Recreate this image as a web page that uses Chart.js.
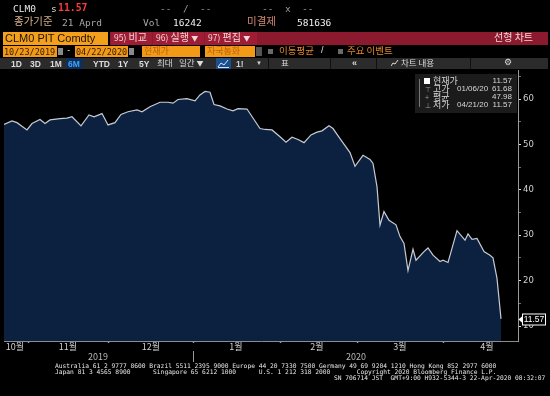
<!DOCTYPE html>
<html><head><meta charset="utf-8">
<script src="https://cdn.jsdelivr.net/npm/chart.js@4.4.1/dist/chart.umd.min.js"></script>
<style>
html,body{margin:0;padding:0;background:#000;width:550px;height:396px;overflow:hidden}
#wrap{position:relative;width:550px;height:396px}
canvas{position:absolute;left:0;top:0}
.t{position:absolute;white-space:pre;line-height:1}
.mono{font-family:"DejaVu Sans Mono",monospace}
.kr{font-family:"Noto Sans CJK KR","Noto Sans",sans-serif}
.sans{font-family:"Liberation Sans",Arial,sans-serif}
.box{position:absolute}
</style></head>
<body><div id="wrap">
<canvas id="c" width="550" height="396"></canvas>

<!-- row 1 -->
<span class="t mono" style="left:13px;top:4px;font-size:9.5px;color:#e8e8e8">CLM0</span>
<span class="t mono" style="left:51px;top:4px;font-size:9.5px;color:#d8d8d8">s</span>
<span class="t mono" style="left:58px;top:3px;font-size:9.8px;font-weight:bold;color:#ff3c3c">11.57</span>
<span class="t mono" style="left:160px;top:4px;font-size:9.5px;color:#9a9a9a">--  /  --</span>
<span class="t mono" style="left:262px;top:4px;font-size:9.5px;color:#9a9a9a">--  x  --</span>
<!-- row 2 -->
<span class="t kr" style="left:14px;top:15.5px;font-size:10.5px;color:#d4b089">종가기준</span>
<span class="t mono" style="left:62px;top:18px;font-size:9.5px;color:#a8a8a8">21 Aprd</span>
<span class="t mono" style="left:143px;top:18px;font-size:9.5px;color:#a8a8a8">Vol</span>
<span class="t mono" style="left:173px;top:18px;font-size:9.5px;color:#f0f0f0">16242</span>
<span class="t kr" style="left:247px;top:15.5px;font-size:10.5px;color:#cf8a72">미결제</span>
<span class="t mono" style="left:297px;top:18px;font-size:9.5px;color:#f0f0f0">581636</span>
<!-- row 3 -->
<div class="box" style="left:3px;top:32px;width:105px;height:13px;background:#f5a01c"></div>
<span class="t sans" style="left:5px;top:33px;font-size:11px;color:#1c1208">CLM0 PIT Comdty</span>
<div class="box" style="left:110px;top:32px;width:438px;height:13px;background:#8c1a2e"></div>
<div class="box" style="left:111px;top:32px;width:41px;height:13px;background:#9e1d34"></div>
<div class="box" style="left:153px;top:32px;width:51px;height:13px;background:#9e1d34"></div>
<div class="box" style="left:205px;top:32px;width:52px;height:13px;background:#9e1d34"></div>
<span class="t kr" style="left:114px;top:32px;font-size:10px;color:#f3d6d6"><span style="font-size:8.5px">95)</span> 비교</span>
<span class="t kr" style="left:156px;top:32px;font-size:10px;color:#f3d6d6"><span style="font-size:8.5px">96)</span> 실행 <span style="font-size:7px">▼</span></span>
<span class="t kr" style="left:208px;top:32px;font-size:10px;color:#f3d6d6"><span style="font-size:8.5px">97)</span> 편집 <span style="font-size:7px">▼</span></span>
<span class="t kr" style="left:494px;top:32px;font-size:10px;color:#f3d6d6">선형 차트</span>
<!-- row 4 -->
<div class="box" style="left:3px;top:46px;width:54px;height:11px;background:#f29a18"></div>
<span class="t mono" style="left:4px;top:47.5px;font-size:8.5px;color:#3a2000">10/23/2019</span>
<div class="box" style="left:58px;top:48px;width:5px;height:7px;background:#8a8a8a"></div>
<span class="t mono" style="left:66px;top:46px;font-size:9px;color:#dddddd">-</span>
<div class="box" style="left:75px;top:46px;width:53px;height:11px;background:#f29a18"></div>
<span class="t mono" style="left:76px;top:47.5px;font-size:8.5px;color:#3a2000">04/22/2020</span>
<div class="box" style="left:129px;top:48px;width:5px;height:7px;background:#8a8a8a"></div>
<div class="box" style="left:142px;top:46px;width:58px;height:11px;background:#f29a18"></div>
<span class="t kr" style="left:144px;top:45.5px;font-size:9px;color:#b8620e">현재가</span>
<div class="box" style="left:205px;top:46px;width:50px;height:11px;background:#f29a18"></div>
<span class="t kr" style="left:207px;top:45.5px;font-size:9px;color:#b8620e">자국통화</span>
<div class="box" style="left:256px;top:47px;width:6px;height:9px;background:#555"></div>
<div class="box" style="left:268px;top:49px;width:5px;height:5px;background:#6a6a6a"></div>
<span class="t kr" style="left:279px;top:45.5px;font-size:9.5px;color:#e5862a">이동평균</span>
<span class="t sans" style="left:321px;top:46px;font-size:9px;color:#e0e0e0">/</span>
<div class="box" style="left:338px;top:49px;width:5px;height:5px;background:#6a6a6a"></div>
<span class="t kr" style="left:347px;top:45.5px;font-size:9.5px;color:#e5862a">주요 이벤트</span>
<!-- row 5 -->
<div class="box" style="left:0px;top:58px;width:548px;height:11px;background:#2b2b2b"></div>
<div class="box" style="left:268px;top:58px;width:1px;height:11px;background:#111"></div>
<div class="box" style="left:330px;top:58px;width:1px;height:11px;background:#111"></div>
<div class="box" style="left:376px;top:58px;width:1px;height:11px;background:#111"></div>
<div class="box" style="left:470px;top:58px;width:1px;height:11px;background:#111"></div>
<div class="box" style="left:66px;top:58px;width:17px;height:11px;background:#0f2f57"></div>
<span class="t sans" style="left:11px;top:59.5px;font-size:8.5px;font-weight:bold;color:#dcdcdc">1D</span>
<span class="t sans" style="left:30px;top:59.5px;font-size:8.5px;font-weight:bold;color:#dcdcdc">3D</span>
<span class="t sans" style="left:50px;top:59.5px;font-size:8.5px;font-weight:bold;color:#dcdcdc">1M</span>
<span class="t sans" style="left:68px;top:59.5px;font-size:8.5px;font-weight:bold;color:#3ea2ff">6M</span>
<span class="t sans" style="left:93px;top:59.5px;font-size:8.5px;font-weight:bold;color:#dcdcdc">YTD</span>
<span class="t sans" style="left:118px;top:59.5px;font-size:8.5px;font-weight:bold;color:#dcdcdc">1Y</span>
<span class="t sans" style="left:139px;top:59.5px;font-size:8.5px;font-weight:bold;color:#dcdcdc">5Y</span>
<span class="t kr" style="left:157px;top:58px;font-size:8.5px;color:#dcdcdc">최대</span>
<span class="t kr" style="left:179px;top:58px;font-size:8.5px;color:#dcdcdc">일간 <span style="font-size:7px">▼</span></span>
<div class="box" style="left:216px;top:58px;width:15px;height:11px;background:#1d4f8c"></div>
<svg class="box" style="left:217px;top:59px" width="13" height="9"><polyline points="1,8 4,4 7,6 11,1" fill="none" stroke="#cfe4ff" stroke-width="1"/><line x1="1" y1="8.5" x2="12" y2="8.5" stroke="#cfe4ff" stroke-width="1"/></svg>
<span class="t sans" style="left:236px;top:59.5px;font-size:8.5px;font-weight:bold;color:#cfcfcf">1!</span>
<span class="t sans" style="left:256px;top:60px;font-size:6px;color:#cfcfcf">▼</span>
<span class="t kr" style="left:281px;top:58px;font-size:8.5px;color:#dcdcdc">표</span>
<span class="t sans" style="left:352px;top:58.5px;font-size:9px;font-weight:bold;color:#dcdcdc">«</span>
<svg class="box" style="left:391px;top:60px" width="8" height="7"><polyline points="0,6 2,3 4,4 7,0" fill="none" stroke="#dcdcdc" stroke-width="1"/></svg>
<span class="t kr" style="left:401px;top:58px;font-size:8.5px;color:#dcdcdc">차트 내용</span>
<span class="t sans" style="left:504px;top:58px;font-size:9px;color:#dcdcdc">⚙</span>

<!-- stats box -->
<div class="box" style="left:415px;top:74px;width:102px;height:39px;background:#1b1b1b"></div>
<div class="box" style="left:419px;top:79px;width:1px;height:28px;background:#777"></div>
<div class="box" style="left:424px;top:78px;width:6px;height:6px;background:#ffffff"></div>
<div id="stats"></div>

<!-- footer -->
<span class="t mono" style="left:55px;top:362.5px;font-size:6.27px;color:#e8e8e8">Australia 61 2 9777 8600 Brazil 5511 2395 9000 Europe 44 20 7330 7500 Germany 49 69 9204 1210 Hong Kong 852 2977 6000</span>
<span class="t mono" style="left:55px;top:369px;font-size:6.27px;color:#e8e8e8">Japan 81 3 4565 8900      Singapore 65 6212 1000      U.S. 1 212 318 2000       Copyright 2020 Bloomberg Finance L.P.</span>
<span class="t mono" style="left:334px;top:375px;font-size:6.27px;color:#e8e8e8">SN 706714 JST  GMT+9:00 H932-5344-3 22-Apr-2020 08:32:07</span>
</div>
<script>
// ---- data ----
// x = trading-day index from 23 Oct 2019
const dayIndex = [0,2,3.25,5.75,7,9,10.25,11.5,14,15.75,17,19.25,21.25,22.5,24.5,26,27.75,29.25,31,33.25,34.5,36.5,39,41,42.25,43.5,45.75,47.75,49,50.25,51.5,52.5,54,55.75,57.25,58.5,60.75,64,65.25,67,69,70.5,72,73.5,75,76.75,78.25,79.5,81.25,82.25,84,86.5,87.75,89.75,91.5,92.25,93.25,94,95,96.25,98,99,100,101,102.25,103,105,106,107.25,109,109.75,111,113.25,115.25,116,117,118.25,120,121.5,122.25,123.25,124.25];
const price = [54.4,55.2,54.8,53.2,54.6,55.5,54.6,55.4,55.7,55.8,56.1,54.1,56.5,56.1,56.8,54.3,54.8,56.6,57.2,57.6,57.2,58.3,59.3,59.3,59.1,59.9,60.1,59.6,60.9,61.68,61.5,58.8,58.5,57.8,57.4,57.9,57.8,53.5,53.3,53.2,51.7,50.5,51.6,51.1,50.4,52.1,52.7,53.0,54.1,53.5,51.3,48.2,45.2,47.6,46.7,45.8,40.7,32.2,35.2,33.3,32.3,29.7,28.2,22.2,26.9,24.5,26.4,27.2,25.6,24.2,24.5,24.0,31.0,28.9,30.3,29.1,29.3,26.4,25.6,25.0,20.5,11.57];
const monthLabels = ['10월','11월','12월','1월','2월','3월','4월'];
const monthCenters = [2.75,16,36.75,58,78.25,99,120.75];
const monthStarts = [6,26,47.25,69,88.25,109.75];
const yearLabels = ['2019','2020'];
const yearCenters = [23.5,88];
const yearDivider = 47.25;
const statNames = ['현재가','고가','평균','저가'];
const statDates = ['','01/06/20','','04/21/20'];
const statValues = [11.57,61.68,47.98,11.57];
const statMarks = ['','⊤','+','⊥'];

// stats box text
(function(){
  const host=document.getElementById('stats');
  let html='';
  statNames.forEach((n,i)=>{
    const top=77+i*8;
    if(statMarks[i]) html+=`<span class="t sans" style="left:425px;top:${top+0.5}px;font-size:7px;color:#9a9a9a">${statMarks[i]}</span>`;
    html+=`<span class="t kr" style="left:433px;top:${top-1.5}px;font-size:9px;color:#d6d6d6">${n}</span>`;
    if(statDates[i]) html+=`<span class="t sans" style="left:457px;top:${top}px;font-size:8px;color:#d6d6d6">${statDates[i]}</span>`;
    html+=`<span class="t sans" style="left:482px;width:30px;text-align:right;top:${top}px;font-size:8px;color:#d6d6d6">${statValues[i].toFixed(2)}</span>`;
  });
  host.innerHTML=html;
})();

const lastValuePlugin = {
  id:'lastValue',
  afterDraw(chart){
    const ys=chart.scales.y, c=chart.ctx;
    const v=price[price.length-1];
    const py=Math.round(ys.getPixelForValue(v))+0.5;
    const x0=ys.left+4.5;
    c.save();
    c.fillStyle='#ffffff';
    c.beginPath(); c.moveTo(ys.left+0.5,py); c.lineTo(x0,py-3.5); c.lineTo(x0,py+3.5); c.closePath(); c.fill();
    c.fillStyle='#000'; c.fillRect(x0,py-5.5,23,11);
    c.strokeStyle='#ffffff'; c.lineWidth=1; c.strokeRect(x0,py-5.5,23,11);
    c.fillStyle='#ffffff'; c.font='8.5px "Liberation Sans", Arial, sans-serif';
    c.textAlign='center'; c.textBaseline='middle';
    c.fillText(v.toFixed(2), x0+11.5, py+0.5);
    c.restore();
  }
};

const isIn=(arr,v)=>arr.some(a=>Math.abs(a-v)<1e-6);

new Chart(document.getElementById('c'),{
  type:'line',
  data:{datasets:[{
    data: dayIndex.map((d,i)=>({x:d,y:price[i]})),
    borderColor:'#c6cbd3', borderWidth:1.2, backgroundColor:'#0c2040',
    fill:'start', pointRadius:0, tension:0
  }]},
  options:{
    responsive:false, animation:false, devicePixelRatio:1,
    layout:{padding:{left:4,right:0,top:70,bottom:32}},
    plugins:{legend:{display:false},tooltip:{enabled:false}},
    scales:{
      x:{
        type:'linear', position:'bottom', min:0, max:128.5, weight:0,
        afterBuildTicks:s=>{ s.ticks=[...monthCenters,...monthStarts].sort((a,b)=>a-b).map(v=>({value:v})); },
        afterFit:s=>{ s.height=10; },
        grid:{display:true,drawOnChartArea:false,drawTicks:true,tickLength:2,tickWidth:1.5,
          tickColor:ctx=> (ctx.tick && isIn(monthStarts,ctx.tick.value)) ? '#9a9a9a' : 'rgba(0,0,0,0)'},
        border:{display:true,color:'#8c8c8c',width:1},
        ticks:{autoSkip:false,maxRotation:0,padding:-2,color:'#d0d0d0',
          font:{family:'"Noto Sans CJK KR"',size:9},
          callback:v=>{ const i=monthCenters.findIndex(m=>Math.abs(m-v)<1e-6); return i>=0?monthLabels[i]:''; }}
      },
      x2:{
        type:'linear', position:'bottom', min:0, max:128.5, weight:1,
        afterBuildTicks:s=>{ s.ticks=[yearCenters[0],yearDivider,yearCenters[1]].map(v=>({value:v})); },
        afterFit:s=>{ s.height=13; },
        grid:{display:true,drawOnChartArea:false,drawTicks:true,tickLength:11,tickWidth:1,
          tickColor:ctx=> (ctx.tick && Math.abs(ctx.tick.value-yearDivider)<1e-6) ? '#9a9a9a' : 'rgba(0,0,0,0)'},
        border:{display:false},
        ticks:{autoSkip:false,maxRotation:0,padding:-11,color:'#b8b8b8',
          font:{family:'"Noto Sans CJK KR"',size:9},
          callback:v=>{ const i=yearCenters.findIndex(m=>Math.abs(m-v)<1e-6); return i>=0?yearLabels[i]:''; }}
      },
      y:{
        type:'linear', position:'right', min:6.7, max:66.4,
        afterFit:s=>{ s.width=32; },
        grid:{display:true,drawOnChartArea:false,drawTicks:true,tickLength:3,tickWidth:1,
          tickColor:ctx=> (ctx.tick && ctx.tick.value%10===0) ? '#e0e0e0' : '#707070'},
        border:{display:true,color:'#9a9a9a',width:1},
        ticks:{stepSize:5,includeBounds:false,padding:2,color:'#d0d0d0',
          font:{family:'"DejaVu Sans"',size:8.5},
          callback:v=> (v%10===0)? String(v) : ''}
      }
    }
  },
  plugins:[lastValuePlugin]
});
</script>
</body></html>
